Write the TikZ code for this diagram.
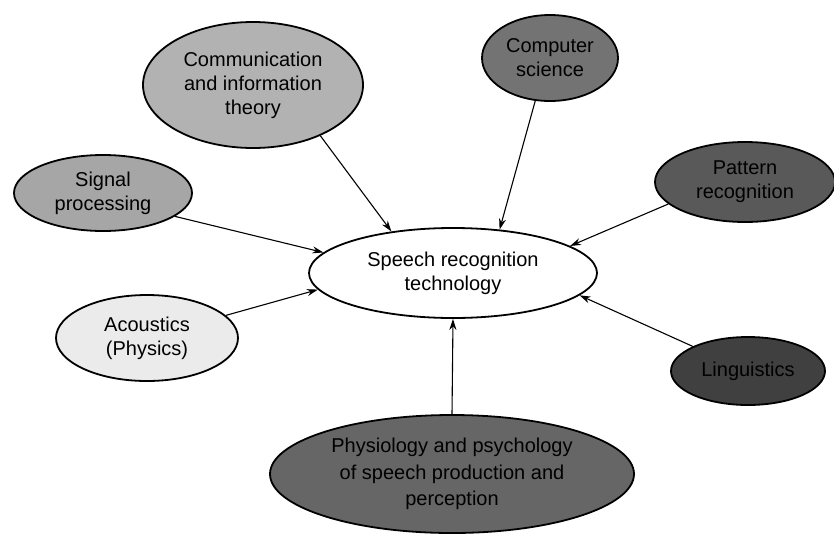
\documentclass[tikz,border=0pt]{standalone}
\usepackage{fontspec}
\setmainfont{Liberation Sans}
\usetikzlibrary{shapes.geometric,arrows.meta}
\begin{document}
\begin{tikzpicture}[x=1pt,y=-1pt,
  field/.style={ellipse,draw=black,line width=1.8pt,inner sep=0pt,align=center,
    font=\fontsize{20}{24}\selectfont},
  link/.style={line width=1.1pt,-{Stealth[length=11pt,width=7pt]}}]
\useasboundingbox (0,0) rectangle (834,536);
\node[field,fill=white,minimum width=288pt,minimum height=90pt] (srt) at (453,273) {Speech recognition\\technology};
\node[field,fill=black!30,minimum width=220pt,minimum height=126pt] (comm) at (253,85) {Communication\\and information\\theory};
\node[field,fill=black!55,minimum width=136pt,minimum height=86pt] (comp) at (550,58) {Computer\\science};
\node[field,fill=black!65,minimum width=180pt,minimum height=80pt] (patt) at (745,182) {Pattern\\recognition};
\node[field,fill=black!75,minimum width=154pt,minimum height=68pt] (ling) at (748,371) {Linguistics};
\node[field,fill=black!60,minimum width=364pt,minimum height=118pt,font=\fontsize{20}{26.5}\selectfont] (phys) at (452,474) {Physiology and psychology\\of speech production and\\perception};
\node[field,fill=black!35,minimum width=178pt,minimum height=76pt] (sig) at (103,193) {Signal\\processing};
\node[field,fill=black!8,minimum width=182pt,minimum height=86pt] (acou) at (147,338) {Acoustics\\(Physics)};
\draw[link] (comm.-37) -- (srt.146);
\draw[link] (comp.-109) -- (srt.43);
\draw[link] (patt.196) -- (srt.13);
\draw[link] (sig.-18) -- (srt.171);
\draw[link] (acou.16) -- (srt.-173);
\draw[link] (ling.156) -- (srt.-10);
\draw[link] (phys.north) -- (srt.south);
\end{tikzpicture}
\end{document}
